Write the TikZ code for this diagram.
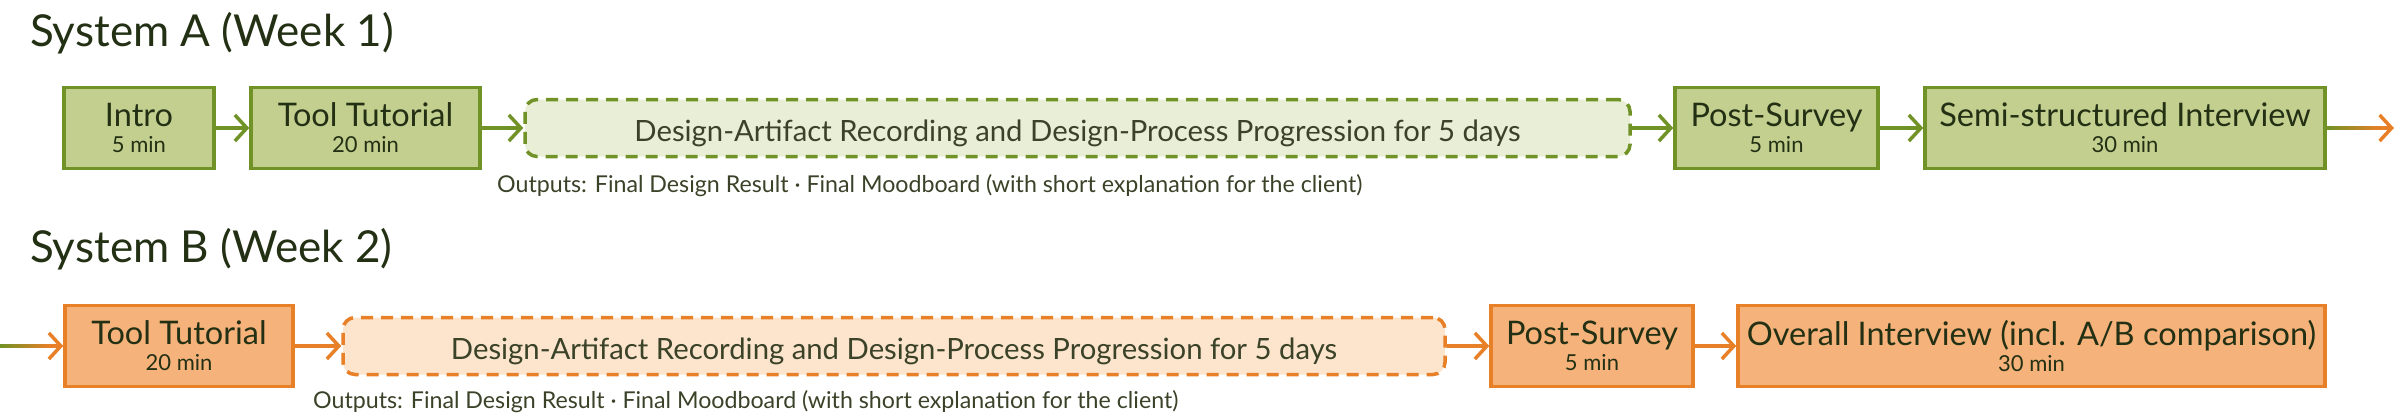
\documentclass[tikz,border=0pt]{standalone}
\usepackage{fontspec}
\setmainfont{Lato}
\usetikzlibrary{arrows.meta,calc}

\definecolor{grnline}{RGB}{112,146,38}
\definecolor{grnfill}{RGB}{195,207,143}
\definecolor{grnpale}{RGB}{233,239,214}
\definecolor{orgline}{RGB}{232,128,40}
\definecolor{orgfill}{RGB}{245,178,122}
\definecolor{orgpale}{RGB}{252,228,205}
\definecolor{inktext}{RGB}{35,48,20}
\definecolor{notetext}{RGB}{58,66,40}

\newcommand{\minor}[1]{{\fontsize{22}{22}\selectfont #1}}

\begin{document}
\begin{tikzpicture}[x=1pt,y=-1pt,
	stage/.style={draw, line width=3.5pt, inner sep=0pt, minimum height=81pt, align=center, text=inktext, font=\fontsize{32.5}{26}\selectfont},
	stageA/.style={stage, draw=grnline, fill=grnfill},
	stageB/.style={stage, draw=orgline, fill=orgfill},
	period/.style={draw, line width=3.5pt, dash pattern=on 12pt off 8pt, rounded corners=12pt, minimum height=57pt, inner sep=0pt, text height=27pt, text depth=0pt, text=notetext, font=\fontsize{29.3}{29.3}\selectfont},
	flow/.style={line width=3.5pt, -{Straight Barb[length=12pt,width=26pt]}},
	title/.style={anchor=base west, inner sep=0pt, text=inktext, font=\fontsize{44}{44}\selectfont},
	note/.style={anchor=base west, inner sep=0pt, text=notetext, font=\fontsize{23.2}{23.2}\selectfont}]
	\useasboundingbox (0,0) rectangle (2396,420);
	
	% week 1
	\node[title] (titleA) at (30,47) {System A (Week 1)};
	\node[stageA, minimum width=150pt] (intro) at (139,128) {Intro\\\minor{5 min}};
	\node[stageA, minimum width=229pt] (tutA) at (365.5,128) {Tool Tutorial\\\minor{20 min}};
	\node[period, draw=grnline, fill=grnpale, minimum width=1105pt] (daysA) at (1077.5,128) {Design-Artifact Recording and Design-Process Progression for 5 days};
	\node[stageA, minimum width=203pt] (postA) at (1776.5,128) {Post-Survey\\\minor{5 min}};
	\node[stageA, minimum width=400pt] (semi) at (2125,128) {Semi-structured Interview\\\minor{30 min}};
	\node[note] (outA) at (497,192) {Outputs: Final Design Result · Final Moodboard (with short explanation for the client)};
	\coordinate (endA) at (2394,128);
	
	\draw[flow, grnline] (intro) -- (tutA);
	\draw[flow, grnline] (tutA) -- (daysA);
	\draw[flow, grnline] (daysA) -- (postA);
	\draw[flow, grnline] (postA) -- (semi);
	\shade[left color=grnline, right color=orgline] ($(semi.east)+(0,-1.75)$) rectangle ($(endA)+(-14,1.75)$);
	\draw[flow, orgline] ($(endA)+(-14,0)$) -- (endA);
	
	% week 2
	\node[title] (titleB) at (30,262) {System B (Week 2)};
	\node[stageB, minimum width=228pt] (tutB) at (179,346) {Tool Tutorial\\\minor{20 min}};
	\node[period, draw=orgline, fill=orgpale, minimum width=1102pt] (daysB) at (894,346) {Design-Artifact Recording and Design-Process Progression for 5 days};
	\node[stageB, minimum width=202pt] (postB) at (1592,346) {Post-Survey\\\minor{5 min}};
	\node[stageB, minimum width=587pt] (overall) at (2031.5,346) {Overall Interview (incl. A/B comparison)\\\minor{30 min}};
	\node[note] (outB) at (313,408) {Outputs: Final Design Result · Final Moodboard (with short explanation for the client)};
	\coordinate (startB) at (0,346);
	
	\shade[left color=grnline, right color=orgline] ($(startB)+(0,-1.75)$) rectangle ($(tutB.west)+(-14,1.75)$);
	\draw[flow, orgline] ($(tutB.west)+(-14,0)$) -- (tutB);
	\draw[flow, orgline] (tutB) -- (daysB);
	\draw[flow, orgline] (daysB) -- (postB);
	\draw[flow, orgline] (postB) -- (overall);
\end{tikzpicture}
\end{document}
